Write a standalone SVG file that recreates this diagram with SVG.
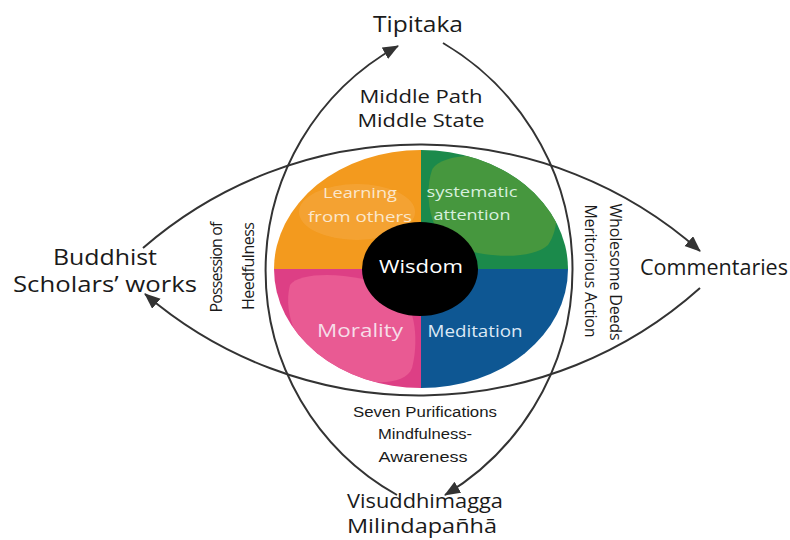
<svg xmlns="http://www.w3.org/2000/svg" width="790" height="540" viewBox="0 0 790 540">
<style>
.lbl{font-family:"Open Sans","Noto Sans",sans-serif;fill:#1a1a1a;text-anchor:middle}
.big{font-size:21px}
.mid{font-size:18px}
.sm{font-family:"Liberation Sans",Arial,sans-serif;font-size:14px;fill:#1a1a1a;text-anchor:middle}
.rot{font-size:16px}
.in{font-family:"Open Sans","Noto Sans",sans-serif;text-anchor:middle}
.conn{fill:none;stroke:#333;stroke-width:2}
</style>
<defs>
<marker id="arrow" markerUnits="userSpaceOnUse" markerWidth="18" markerHeight="14" refX="15" refY="6.5" orient="auto">
<path d="M0,0 L16,6.5 L0,13 Z" fill="#333"/>
</marker>
<clipPath id="disc"><ellipse cx="421" cy="269" rx="147" ry="119"/></clipPath>
</defs>
<rect width="790" height="540" fill="#ffffff"/>
<g id="wheel">
<g clip-path="url(#disc)">
<rect x="270" y="145" width="151" height="124" fill="#F39A1E"/>
<rect x="421" y="145" width="151" height="124" fill="#1B8A4B"/>
<rect x="270" y="269" width="151" height="124" fill="#DD3F85"/>
<rect x="421" y="269" width="151" height="124" fill="#0E5793"/>
<ellipse cx="357" cy="212" rx="58" ry="28" fill="#F6AC4C" opacity="0.45"/>
<path d="M432,170 C440,152 500,150 535,168 C560,185 562,225 548,245 C530,262 470,258 445,240 C428,225 425,190 432,170 Z" fill="#46973E"/>
<path d="M290,285 C300,270 360,272 395,290 C418,305 418,345 412,368 C405,388 360,385 330,370 C300,355 282,315 290,285 Z" fill="#E95A93"/>
</g>
<ellipse cx="420" cy="269" rx="58" ry="47" fill="#000000"/>
</g>
<g id="connectors">
<path class="conn" d="M397,495 A257,257 0 0 1 398,46" marker-end="url(#arrow)"/>
<path class="conn" d="M443,43 A263,263 0 0 1 445,495" marker-end="url(#arrow)"/>
<path class="conn" d="M143,248 A422,422 0 0 1 700,251" marker-end="url(#arrow)"/>
<path class="conn" d="M700,288 A421,421 0 0 1 145,294" marker-end="url(#arrow)"/>
</g>
<g id="tipitaka"><text class="lbl big" x="418" y="32" textLength="90" lengthAdjust="spacingAndGlyphs">Tipitaka</text></g>
<g id="middle"><text class="lbl mid" x="421" y="103" textLength="123" lengthAdjust="spacingAndGlyphs">Middle Path</text>
<text class="lbl mid" x="421" y="127" textLength="127" lengthAdjust="spacingAndGlyphs">Middle State</text></g>
<g id="buddhist"><text class="lbl big" x="105" y="265" textLength="104" lengthAdjust="spacingAndGlyphs">Buddhist</text>
<text class="lbl big" x="105" y="292" textLength="184" lengthAdjust="spacingAndGlyphs">Scholars’ works</text></g>
<g id="commentaries"><text class="lbl big" x="714" y="275" textLength="148" lengthAdjust="spacingAndGlyphs">Commentaries</text></g>
<g id="visuddhimagga"><text class="lbl" x="425" y="508" font-size="20" textLength="156" lengthAdjust="spacingAndGlyphs">Visuddhimagga</text>
<text class="lbl" x="422" y="533" font-size="20" textLength="150" lengthAdjust="spacingAndGlyphs">Milindapañhā</text></g>
<g id="purifications"><text class="sm" x="425" y="417" textLength="144" lengthAdjust="spacingAndGlyphs">Seven Purifications</text>
<text class="sm" x="425" y="439" textLength="94" lengthAdjust="spacingAndGlyphs">Mindfulness-</text>
<text class="sm" x="423" y="462" textLength="89" lengthAdjust="spacingAndGlyphs">Awareness</text></g>
<g id="heedfulness"><text class="lbl rot" transform="translate(222,267) rotate(-90)" textLength="91">Possession of</text>
<text class="lbl rot" transform="translate(254,266) rotate(-90)" textLength="88">Heedfulness</text></g>
<g id="deeds"><text class="lbl rot" transform="translate(610,272) rotate(90)" textLength="137">Wholesome Deeds</text>
<text class="lbl rot" transform="translate(585,271) rotate(90)" textLength="133">Meritorious Action</text></g>
<g id="learning"><text class="in" x="360" y="198" font-size="15" fill="#FBE7CC" textLength="74" lengthAdjust="spacingAndGlyphs">Learning</text>
<text class="in" x="360" y="222" font-size="15" fill="#FBE7CC" textLength="104" lengthAdjust="spacingAndGlyphs">from others</text></g>
<g id="attention"><text class="in" x="472" y="197" font-size="15" fill="#D8F0DE" textLength="91" lengthAdjust="spacingAndGlyphs">systematic</text>
<text class="in" x="472" y="220" font-size="15" fill="#D8F0DE" textLength="77" lengthAdjust="spacingAndGlyphs">attention</text></g>
<g id="wisdom"><text class="in" x="421" y="273" font-size="19" fill="#ffffff" textLength="84" lengthAdjust="spacingAndGlyphs">Wisdom</text></g>
<g id="morality"><text class="in" x="360" y="337" font-size="18" fill="#F6DDE8" textLength="86" lengthAdjust="spacingAndGlyphs">Morality</text></g>
<g id="meditation"><text class="in" x="475" y="337" font-size="16" fill="#DCE9F5" textLength="95" lengthAdjust="spacingAndGlyphs">Meditation</text></g>
</svg>
